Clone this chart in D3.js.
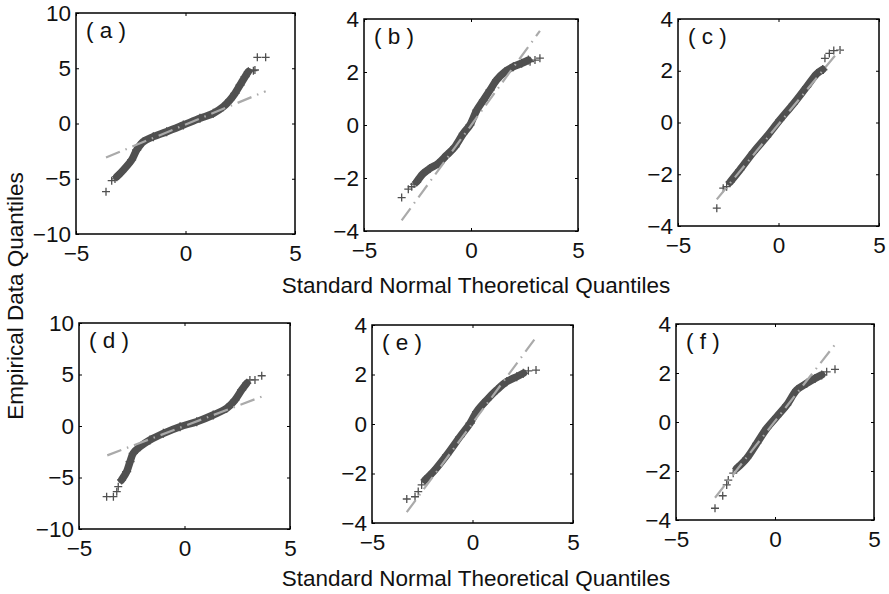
<!DOCTYPE html>
<html>
<head>
<meta charset="utf-8">
<script src="https://cdn.jsdelivr.net/npm/d3@7"></script>
<style>
  body { margin: 0; background: #fff; }
  svg { display: block; }
  text { font-family: "Liberation Sans", Arial, Helvetica, sans-serif; fill: #111; }
</style>
</head>
<body>
<svg id="chart" width="889" height="594"></svg>
<script>
//// DATA ///////////////////////////////////////////////////////////////////////

// dense part of each q-q plot (overlapping markers), [theoretical, empirical]
var bandA = [[-3.14, -4.81], [-2.91, -4.36], [-2.46, -3.30], [-2.23, -2.40], [-1.93, -1.65],
	[-1.47, -1.19], [-0.86, -0.74], [-0.10, -0.14], [0.66, 0.47], [1.27, 0.92], [1.73, 1.52],
	[2.03, 2.13], [2.26, 2.73], [2.49, 3.48], [2.72, 4.24], [2.87, 4.69]];
var bandB = [[-2.54, -2.15], [-2.23, -1.83], [-1.92, -1.64], [-1.53, -1.45], [-1.14, -1.14],
	[-0.75, -0.82], [-0.36, -0.32], [-0.05, 0.00], [0.27, 0.56], [0.58, 0.94], [0.89, 1.32],
	[1.20, 1.70], [1.59, 2.01], [1.98, 2.20], [2.37, 2.33], [2.68, 2.45]];
var bandC = [[-2.41, -2.30], [-1.92, -1.83], [-1.25, -1.15], [-0.59, -0.55], [0.07, 0.10],
	[0.74, 0.72], [1.40, 1.38], [1.90, 1.88], [2.20, 2.05]];
var bandD = [[-2.98, -5.24], [-2.74, -4.43], [-2.58, -3.46], [-2.43, -2.65], [-2.11, -2.01],
	[-1.64, -1.36], [-1.00, -0.71], [-0.21, -0.07], [0.58, 0.42], [1.36, 1.07], [2.00, 1.72],
	[2.39, 2.52], [2.71, 3.50], [2.95, 4.15]];
var bandE = [[-2.36, -2.26], [-1.95, -1.93], [-1.28, -1.25], [-0.62, -0.51], [-0.12, 0.03],
	[0.21, 0.50], [0.71, 0.97], [1.20, 1.37], [1.70, 1.71], [2.20, 1.91], [2.53, 2.05]];
var bandF = [[-1.93, -1.89], [-1.43, -1.48], [-0.92, -0.87], [-0.42, -0.26], [0.09, 0.22],
	[0.59, 0.69], [1.10, 1.31], [1.60, 1.58], [2.02, 1.78], [2.36, 1.92]];

// separate markers in the tails
var tailA = [[-3.63, -6.17], [-3.37, -5.17], [-3.22, -5.02], [3.10, 4.78], [3.17, 4.84], [3.28, 5.99], [3.66, 5.99]];
var tailB = [[-3.24, -2.74], [-2.93, -2.42], [-2.77, -2.33], [-2.66, -2.23], [-2.54, -2.15], [2.76, 2.39], [2.99, 2.45], [3.22, 2.52]];
var tailC = [[-3.07, -3.31], [-2.75, -2.54], [-2.58, -2.48], [-2.41, -2.29], [2.23, 2.03], [2.31, 2.48], [2.53, 2.67], [2.75, 2.78], [3.06, 2.80]];
var tailD = [[-3.69, -6.86], [-3.37, -6.86], [-3.21, -6.38], [-3.14, -5.89], [-2.98, -5.24], [3.10, 4.47], [3.34, 4.47], [3.66, 4.88]];
var tailE = [[-3.27, -3.03], [-2.86, -2.94], [-2.70, -2.73], [-2.53, -2.46], [-2.36, -2.26], [2.78, 2.15], [3.16, 2.18]];
var tailF = [[-3.03, -3.52], [-2.64, -3.01], [-2.44, -2.57], [-2.36, -2.37], [-2.11, -2.09], [2.61, 2.05], [3.03, 2.15]];

// fitted reference lines (end points)
var lineA = [[-3.63, -3.08], [3.66, 2.92]];
var lineB = [[-3.24, -3.60], [3.22, 3.55]];
var lineC = [[-3.07, -2.97], [3.06, 2.82]];
var lineD = [[-3.66, -2.85], [3.66, 2.85]];
var lineE = [[-3.27, -3.56], [3.16, 3.50]];
var lineF = [[-3.03, -3.09], [3.03, 3.16]];

var panelLabels = ["( a )", "( b )", "( c )", "( d )", "( e )", "( f )"];
var xTicks = [-5, 0, 5];
var yTicksWide = [-10, -5, 0, 5, 10];
var yTicksNarrow = [-4, -2, 0, 2, 4];
var xLabel = "Standard Normal Theoretical Quantiles";
var yLabel = "Empirical Data Quantiles";


//// SETTINGS ///////////////////////////////////////////////////////////////////

var fontSize = 22.5;
var markColor = "#505050";
var lineColor = "#aaa";

// frame of each axes box: left, top, right, bottom (px)
var panels = [
	{ box: [76, 13, 295, 234], y: 10, yt: yTicksWide, band: bandA, tail: tailA, fit: lineA },
	{ box: [364, 19, 578, 231], y: 4, yt: yTicksNarrow, band: bandB, tail: tailB, fit: lineB },
	{ box: [678, 19, 879, 226], y: 4, yt: yTicksNarrow, band: bandC, tail: tailC, fit: lineC },
	{ box: [79, 323, 290, 529], y: 10, yt: yTicksWide, band: bandD, tail: tailD, fit: lineD },
	{ box: [372, 325, 573, 523], y: 4, yt: yTicksNarrow, band: bandE, tail: tailE, fit: lineE },
	{ box: [676, 324, 874, 520], y: 4, yt: yTicksNarrow, band: bandF, tail: tailF, fit: lineF }
];


//// DRAWING ////////////////////////////////////////////////////////////////////

var svg = d3.select("#chart");

function plus(g, pts, x, y, r) {
	g.selectAll(null)
		.data(pts)
		.enter().append("path")
			.attr("d", function(d) {
				var px = x(d[0]), py = y(d[1]);
				return "M" + (px - r) + "," + py + "H" + (px + r) +
					"M" + px + "," + (py - r) + "V" + (py + r);
			})
			.attr("stroke", markColor)
			.attr("stroke-width", 1.3)
			.attr("fill", "none");
}

function minus(d) { return d < 0 ? "\u2212" + (-d) : d; }

panels.forEach(function(p, i) {
	var x = d3.scaleLinear().domain([-5, 5]).range([p.box[0], p.box[2]]);
	var y = d3.scaleLinear().domain([-p.y, p.y]).range([p.box[3], p.box[1]]);
	var g = svg.append("g");

	var line = d3.line()
		.x(function(d) { return x(d[0]); })
		.y(function(d) { return y(d[1]); });

	// data band
	g.append("path")
		.attr("d", line.curve(d3.curveCatmullRom)(p.band))
		.attr("fill", "none")
		.attr("stroke", markColor)
		.attr("stroke-width", 7.5)
		.attr("stroke-linecap", "round")
		.attr("stroke-linejoin", "round");
	plus(g, p.band, x, y, 4.5);
	plus(g, p.tail, x, y, 4);

	// reference line
	g.append("path")
		.attr("d", line.curve(d3.curveLinear)(p.fit))
		.attr("fill", "none")
		.attr("stroke", lineColor)
		.attr("stroke-width", 2.2)
		.attr("stroke-dasharray", "15,6,1.5,6");

	// axes: ticks inward on all four sides, labels left and bottom
	var w = p.box[2] - p.box[0], h = p.box[3] - p.box[1];
	g.append("g")
		.attr("transform", "translate(0," + p.box[3] + ")")
		.call(d3.axisBottom(x).tickValues(xTicks).tickSizeInner(-3).tickSizeOuter(0).tickPadding(11)
			.tickFormat(minus));
	g.append("g")
		.attr("transform", "translate(0," + p.box[1] + ")")
		.call(d3.axisTop(x).tickValues(xTicks).tickSizeInner(-3).tickSizeOuter(0).tickFormat(""));
	g.append("g")
		.attr("transform", "translate(" + p.box[0] + ",0)")
		.call(d3.axisLeft(y).tickValues(p.yt).tickSizeInner(-3).tickSizeOuter(0).tickPadding(5)
			.tickFormat(minus));
	g.append("g")
		.attr("transform", "translate(" + p.box[2] + ",0)")
		.call(d3.axisRight(y).tickValues(p.yt).tickSizeInner(-3).tickSizeOuter(0).tickFormat(""));

	g.selectAll(".domain").remove();
	g.selectAll(".tick line").attr("stroke", "#000").attr("stroke-width", 1);
	g.selectAll(".tick text")
		.style("font-size", fontSize + "px")
		.style("font-family", "'Liberation Sans', Arial, sans-serif")
		.attr("fill", "#111");

	g.append("rect")
		.attr("x", p.box[0])
		.attr("y", p.box[1])
		.attr("width", w)
		.attr("height", h)
		.attr("fill", "none")
		.attr("stroke", "#000")
		.attr("stroke-width", 1.5);

	g.append("text")
		.attr("x", p.box[0] + 10)
		.attr("y", p.box[1] + 25)
		.style("font-size", fontSize + "px")
		.text(panelLabels[i]);
});

// shared axis titles
[293, 586].forEach(function(by) {
	svg.append("text")
		.attr("x", 476)
		.attr("y", by)
		.attr("text-anchor", "middle")
		.style("font-size", fontSize + "px")
		.text(xLabel);
});

svg.append("text")
	.attr("transform", "translate(23,296) rotate(-90)")
	.attr("text-anchor", "middle")
	.style("font-size", fontSize + "px")
	.text(yLabel);
</script>
</body>
</html>
